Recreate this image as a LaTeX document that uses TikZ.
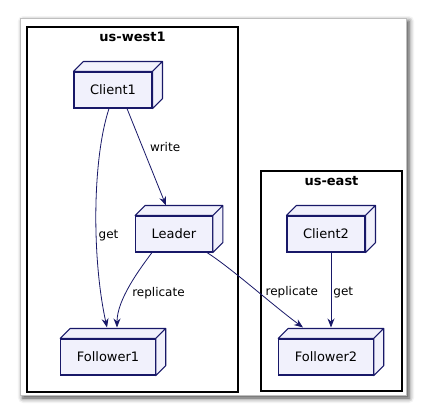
\documentclass[tikz,border=0pt]{standalone}
\usepackage{fontspec}
\setmainfont{DejaVu Sans}
\usetikzlibrary{positioning,arrows.meta,shadows.blur,calc}
\definecolor{nodefill}{RGB}{241,241,252}
\definecolor{nodeline}{RGB}{24,24,104}

\tikzset{
  dev/.style={draw=nodeline, fill=nodefill, line width=1.1pt, minimum height=36pt,
    inner xsep=16pt, font=\fontsize{13}{15}\selectfont},
  face/.style={draw=nodeline, fill=nodefill, line width=1.1pt, line join=round},
  zone/.style={draw=black, line width=1.2pt, inner sep=0pt},
  zonetitle/.style={font=\bfseries\fontsize{13}{15}\selectfont, anchor=north},
  lbl/.style={font=\fontsize{12}{14}\selectfont, inner sep=1pt},
  link/.style={->, draw=nodeline, line width=0.8pt},
}

\begin{document}
\begin{tikzpicture}[x=1pt,y=-1pt,>={Stealth[length=9pt,width=7pt,inset=3pt]},on grid]
\useasboundingbox (0,0) rectangle (426,416);
% page
\path[fill=white, draw=black!25, line width=0.5pt, blur shadow={shadow xshift=3pt, shadow yshift=-3pt,
  shadow blur radius=5pt, shadow opacity=75}] (20,18) rectangle (406,395);
% regions
\node[zone, minimum width=211pt, minimum height=365pt] (west) at (132.5,209.5) {};
\node[zonetitle] at ([yshift=-2pt]west.north) {us-west1};
\node[zone, minimum width=141pt, minimum height=220pt] (east) at (331.5,281) {};
\node[zonetitle] at ([yshift=-2pt]east.north) {us-east};
% devices
\node[dev] (client1) at (113,90) {Client1};
\node[dev] (leader) [below right=144pt and 61pt of client1] {Leader};
\node[dev] (follower1) [below left=123pt and 66pt of leader] {Follower1};
\node[dev] (client2) [right=152pt of leader] {Client2};
\node[dev] (follower2) [below=123pt of client2] {Follower2};
\foreach \n in {client1,leader,follower1,client2,follower2}
  \draw[face] (\n.north west) -- ++(10,-10) -- ($(\n.north east)+(10,-10)$)
    -- ($(\n.south east)+(10,-10)$) -- (\n.south east) -- (\n.north east) -- cycle
    (\n.north east) -- ++(10,-10);
% links
\draw[link] ([xshift=14pt]client1.south) -- node[lbl, pos=0.4, anchor=west, xshift=6pt] {write}
  ([shift={(-8,-10)}]leader.north);
\draw[link] ([xshift=-4pt]client1.south) .. controls +(-17,52) and +(-15,-68) ..
  node[lbl, pos=0.6, anchor=west, xshift=1pt] {get} ([shift={(-1,-11)}]follower1.north);
\draw[link] ([xshift=-22pt]leader.south) .. controls +(-12,16) and +(0,-28) ..
  node[lbl, pos=0.6, anchor=west, xshift=5pt] {replicate} ([shift={(9,-11)}]follower1.north);
\draw[link] ([xshift=33pt]leader.south) .. controls +(25,16) and +(-30,-22) ..
  node[lbl, pos=0.55, anchor=west, xshift=6pt] {replicate} ([shift={(-23,-11)}]follower2.north);
\draw[link] ([xshift=5pt]client2.south) -- node[lbl, pos=0.53, anchor=west, xshift=1pt] {get}
  ([shift={(5,-11)}]follower2.north);
\end{tikzpicture}
\end{document}
